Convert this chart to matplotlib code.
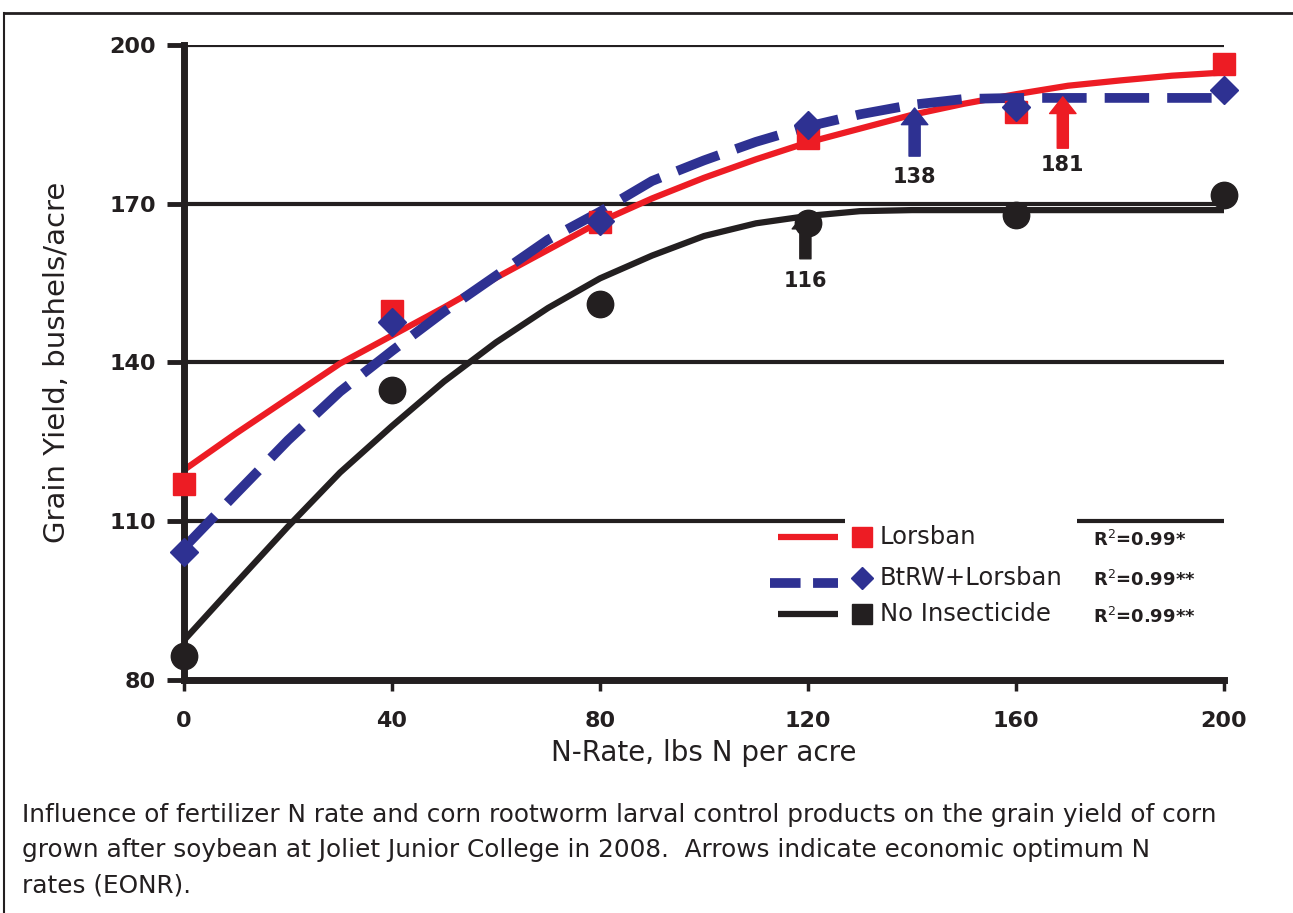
import matplotlib.pyplot as plt
from matplotlib.lines import Line2D
from matplotlib.patches import Rectangle

plt.rcParams['lines.scale_dashes'] = False

# measured yields (bu/acre) at each N rate
n_rate = [0, 40, 80, 120, 160, 200]
yield_lorsban = [117.0, 149.7, 166.5, 182.4, 187.3, 196.4]
yield_btrw = [104.2, 147.7, 166.8, 184.9, 188.3, 191.5]
yield_none = [84.5, 134.8, 151.1, 166.3, 167.9, 171.7]

# fitted response curves
fit_x = [0, 10, 20, 30, 40, 50, 60, 70, 80, 90, 100,
         110, 120, 130, 140, 150, 160, 170, 180, 190, 200]
fit_lorsban = [119.7, 126.6, 133.2, 139.8, 145.1, 150.4, 156.0, 161.3, 166.6, 171.0, 174.9,
               178.4, 181.6, 184.2, 186.8, 188.9, 190.7, 192.3, 193.3, 194.2, 194.8]
fit_btrw = [105.0, 115.2, 125.3, 134.5, 142.2, 149.6, 156.4, 163.2, 168.5, 174.3, 178.2,
            181.7, 184.6, 186.9, 188.7, 189.8, 190.0, 190.0, 190.0, 190.0, 190.0]
fit_none = [87.5, 98.3, 109.0, 119.2, 128.0, 136.4, 143.8, 150.3, 155.9, 160.2, 163.9,
            166.3, 167.7, 168.6, 168.8, 168.8, 168.8, 168.8, 168.8, 168.8, 168.8]

# EONR arrows: label, arrow x position, tip, tail, label y
eonr_labels = ['116', '138', '181']
eonr_x = [119.5, 140.5, 169.0]
eonr_tip = [168.4, 188.1, 190.2]
eonr_tail = [159.6, 179.0, 180.5]
eonr_text_y = [155.4, 175.1, 177.3]

series_names = ['Lorsban', 'BtRW+Lorsban', 'No Insecticide']
r2_labels = ['R$^2$=0.99*', 'R$^2$=0.99**', 'R$^2$=0.99**']

RED = '#ED1C24'
BLUE = '#2E3192'
BLACK = '#231F20'

fig = plt.figure(figsize=(12.93, 9.13), dpi=100, facecolor='white')
ax = fig.add_axes([184/1293, 1-680/913, 1040/1293, 635/913])

ax.set_xlim(0, 200)
ax.set_ylim(80, 200)
ax.set_xticks([0, 40, 80, 120, 160, 200])
ax.set_yticks([80, 110, 140, 170, 200])

for s in ['top', 'right']:
    ax.spines[s].set_visible(False)
for s in ['left', 'bottom']:
    ax.spines[s].set_linewidth(5)
    ax.spines[s].set_color(BLACK)
    ax.spines[s].set_zorder(4)

ax.yaxis.grid(True, color=BLACK, linewidth=3)
ax.set_axisbelow(True)
ax.tick_params(axis='y', length=12, width=3.5, color=BLACK, pad=8, labelsize=16)
ax.tick_params(axis='x', length=8, width=2.5, color=BLACK, pad=14, labelsize=16)
for lab in ax.get_xticklabels() + ax.get_yticklabels():
    lab.set_fontweight('bold')
    lab.set_color(BLACK)

# curves
ax.plot(fit_x, fit_lorsban, color=RED, lw=4.5, zorder=3, solid_capstyle='butt')
ax.plot(fit_x, fit_btrw, color=BLUE, lw=7, dashes=(32, 13), zorder=3, dash_capstyle='butt')
ax.plot(fit_x, fit_none, color=BLACK, lw=4.5, zorder=3, solid_capstyle='butt')

# observed points
ax.plot(n_rate, yield_lorsban, ls='none', marker='s', ms=16, color=RED, mec=RED, zorder=5, clip_on=False)
ax.plot(n_rate, yield_btrw, ls='none', marker='D', ms=14, color=BLUE, mec=BLUE, zorder=6, clip_on=False)
ax.plot(n_rate, yield_none, ls='none', marker='o', ms=19, color=BLACK, mec=BLACK, zorder=5, clip_on=False)

# EONR arrows
for lab, x, tip, tail, ty, c in zip(eonr_labels, eonr_x, eonr_tip, eonr_tail, eonr_text_y,
                                     [BLACK, BLUE, RED]):
    ax.annotate('', xy=(x, tip), xytext=(x, tail),
                arrowprops=dict(arrowstyle='simple,head_width=0.95,head_length=0.6,tail_width=0.4',
                                color=c, mutation_scale=20, shrinkA=0, shrinkB=0), zorder=7)
    ax.text(x, ty, lab, ha='center', va='center', fontsize=15, fontweight='bold', color=BLACK)

# white patch behind legend (covers the 110 gridline)
def ax_x(px):
    return (px - 184) / 1040

def ax_y(py):
    return (680 - py) / 635

ax.add_patch(Rectangle((ax_x(845), ax_y(640)), ax_x(1077) - ax_x(845), ax_y(515) - ax_y(640),
                       transform=ax.transAxes, facecolor='white', edgecolor='none', zorder=2))

# manual legend
rows_y = [537, 578, 614]
ax.add_line(Line2D([ax_x(778), ax_x(838)], [ax_y(rows_y[0])] * 2, transform=ax.transAxes,
                   color=RED, lw=4.5, solid_capstyle='butt'))
ax.add_line(Line2D([ax_x(770), ax_x(838)], [ax_y(583)] * 2, transform=ax.transAxes,
                   color=BLUE, lw=7, dashes=(22, 9), dash_capstyle='butt'))
ax.add_line(Line2D([ax_x(778), ax_x(838)], [ax_y(rows_y[2])] * 2, transform=ax.transAxes,
                   color=BLACK, lw=4.5, solid_capstyle='butt'))
for py, m, c, ms in zip(rows_y, ['s', 'D', 's'], [RED, BLUE, BLACK], [15, 11, 15]):
    ax.add_line(Line2D([ax_x(862)], [ax_y(py)], transform=ax.transAxes, ls='none',
                       marker=m, ms=ms, color=c, mec=c))
for py, name in zip(rows_y, series_names):
    ax.text(ax_x(880), ax_y(py), name, transform=ax.transAxes, ha='left', va='center',
            fontsize=17.5, color=BLACK)
for py, r2 in zip([540, 580, 617], r2_labels):
    ax.text(ax_x(1093), ax_y(py), r2, transform=ax.transAxes, ha='left', va='center',
            fontsize=13, fontweight='bold', color=BLACK)

ax.set_xlabel('N-Rate, lbs N per acre', fontsize=20, color=BLACK, labelpad=6)
ax.set_ylabel('Grain Yield, bushels/acre', fontsize=21, color=BLACK, labelpad=28)

# caption
caption = ['Influence of fertilizer N rate and corn rootworm larval control products on the grain yield of corn',
           'grown after soybean at Joliet Junior College in 2008.  Arrows indicate economic optimum N',
           'rates (EONR).']
for i, line in enumerate(caption):
    fig.text(22/1293, 1 - (815 + 35*i)/913, line, ha='left', va='center', fontsize=17.8, color=BLACK)

# page frame
fig.add_artist(Line2D([4/1293, 1], [1 - 13/913] * 2, transform=fig.transFigure, color=BLACK, lw=2))
fig.add_artist(Line2D([4/1293] * 2, [0, 1 - 13/913], transform=fig.transFigure, color=BLACK, lw=1.5))

fig.savefig('out.png', dpi=100, facecolor='white')
